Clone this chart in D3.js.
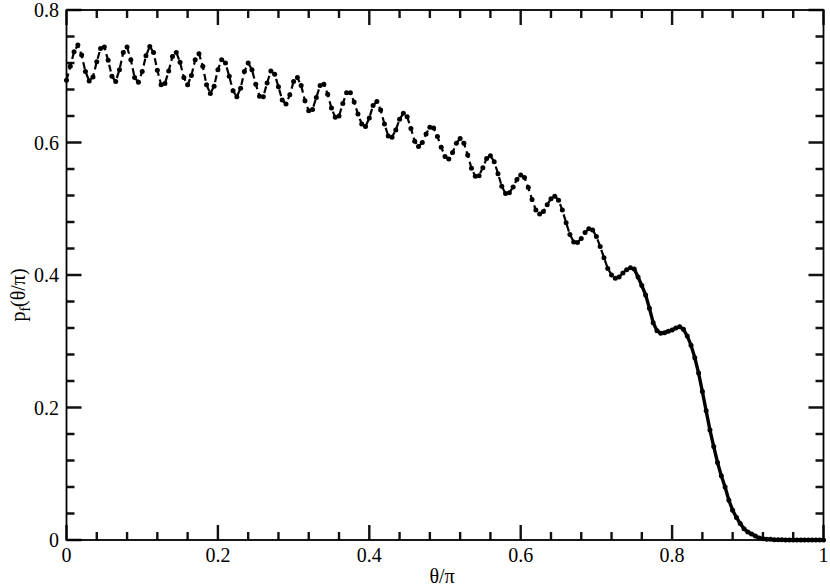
<!DOCTYPE html>
<html>
<head>
<meta charset="utf-8">
<script src="https://cdn.jsdelivr.net/npm/d3@7"></script>
<style>
  html, body { margin: 0; padding: 0; background: #fff; }
  svg { display: block; }
</style>
</head>
<body>
<svg id="chart" width="830" height="587" xmlns="http://www.w3.org/2000/svg"></svg>
<script>
// ---- data ----
const thetaStep = 0.005;           // sampling of θ/π
const splitTheta = 0.75;           // dashed part up to here, solid afterwards
const pf = [
  0.694, 0.715, 0.737, 0.747, 0.732, 0.707, 0.693, 0.699, 0.722, 0.742,
  0.744, 0.724, 0.700, 0.692, 0.710, 0.736, 0.744, 0.725, 0.698, 0.691,
  0.707, 0.731, 0.745, 0.736, 0.709, 0.687, 0.689, 0.708, 0.730, 0.736,
  0.721, 0.698, 0.687, 0.701, 0.725, 0.734, 0.715, 0.687, 0.674, 0.685,
  0.710, 0.725, 0.720, 0.700, 0.678, 0.669, 0.682, 0.707, 0.720, 0.710,
  0.688, 0.670, 0.669, 0.690, 0.708, 0.703, 0.684, 0.664, 0.658, 0.672,
  0.692, 0.698, 0.686, 0.663, 0.648, 0.650, 0.668, 0.686, 0.688, 0.673,
  0.652, 0.638, 0.640, 0.659, 0.675, 0.675, 0.661, 0.643, 0.628, 0.624,
  0.637, 0.656, 0.662, 0.649, 0.628, 0.610, 0.608, 0.619, 0.635, 0.644,
  0.639, 0.621, 0.602, 0.594, 0.600, 0.613, 0.623, 0.622, 0.609, 0.593,
  0.579, 0.575, 0.585, 0.599, 0.606, 0.599, 0.581, 0.561, 0.549, 0.550,
  0.562, 0.576, 0.580, 0.571, 0.553, 0.534, 0.523, 0.524, 0.533, 0.544,
  0.551, 0.547, 0.532, 0.514, 0.498, 0.492, 0.496, 0.506, 0.515, 0.519,
  0.513, 0.498, 0.479, 0.461, 0.450, 0.449, 0.455, 0.464, 0.470, 0.468,
  0.458, 0.443, 0.426, 0.410, 0.400, 0.395, 0.397, 0.403, 0.408, 0.411,
  0.409, 0.397, 0.384, 0.370, 0.350, 0.328, 0.316, 0.312, 0.313, 0.315,
  0.317, 0.320, 0.322, 0.318, 0.308, 0.294, 0.275, 0.252, 0.224, 0.195,
  0.166, 0.141, 0.117, 0.097, 0.080, 0.060, 0.045, 0.034, 0.025, 0.017,
  0.012, 0.009, 0.006, 0.003, 0.002, 0.001, 0.001, 0.0005, 0.0003, 0.0002,
  0.0001, 0, 0, 0, 0, 0, 0, 0, 0, 0,
  0
];
const xMajorTicks = [0, 0.2, 0.4, 0.6, 0.8, 1];
const xTickLabels = ["0", "0.2", "0.4", "0.6", "0.8", "1"];
const yMajorTicks = [0, 0.2, 0.4, 0.6, 0.8];
const yTickLabels = ["0", "0.2", "0.4", "0.6", "0.8"];
const xMinorTicks = [0.04, 0.08, 0.12, 0.16, 0.24, 0.28, 0.32, 0.36, 0.44, 0.48, 0.52, 0.56,
                     0.64, 0.68, 0.72, 0.76, 0.84, 0.88, 0.92, 0.96];
const yMinorTicks = [0.04, 0.08, 0.12, 0.16, 0.24, 0.28, 0.32, 0.36, 0.44, 0.48, 0.52, 0.56,
                     0.64, 0.68, 0.72, 0.76];

// ---- layout ----
const FONT = "Liberation Serif";
const M = { left: 66.5, right: 823.5, top: 10, bottom: 540 };
const svg = d3.select("#chart");
const x = d3.scaleLinear().domain([0, 1]).range([M.left, M.right]);
const y = d3.scaleLinear().domain([0, 0.8]).range([M.bottom, M.top]);

const points = pf.map((v, i) => ({ t: i * thetaStep, v }));
const dashedPts = points.filter(d => d.t <= splitTheta + 1e-9);
const solidPts = points.filter(d => d.t >= splitTheta - 1e-9);
const line = d3.line().x(d => x(d.t)).y(d => y(d.v));

// ---- ticks (inward on all four sides) ----
const majLen = 15, minLen = 8;
let dStr = "";
xMajorTicks.forEach(v => { const p = x(v); dStr += `M${p},${M.bottom}V${M.bottom - majLen}M${p},${M.top}V${M.top + majLen}`; });
xMinorTicks.forEach(v => { const p = x(v); dStr += `M${p},${M.bottom}V${M.bottom - minLen}M${p},${M.top}V${M.top + minLen}`; });
yMajorTicks.forEach(v => { const p = y(v); dStr += `M${M.left},${p}H${M.left + majLen}M${M.right},${p}H${M.right - majLen}`; });
yMinorTicks.forEach(v => { const p = y(v); dStr += `M${M.left},${p}H${M.left + minLen}M${M.right},${p}H${M.right - minLen}`; });
svg.append("path").attr("d", dStr).attr("fill", "none").attr("stroke", "#111").attr("stroke-width", 2.4);

// frame
svg.append("rect").attr("x", M.left).attr("y", M.top)
  .attr("width", M.right - M.left).attr("height", M.bottom - M.top)
  .attr("fill", "none").attr("stroke", "#000").attr("stroke-width", 1.8);

// ---- data ----
svg.append("path").datum(dashedPts)
  .attr("d", line).attr("fill", "none").attr("stroke", "#000")
  .attr("stroke-width", 2.2).attr("stroke-dasharray", "7,4");
svg.append("path").datum(solidPts)
  .attr("d", line).attr("fill", "none").attr("stroke", "#000")
  .attr("stroke-width", 3.4);
svg.append("g").selectAll("circle").data(points).join("circle")
  .attr("cx", d => x(d.t)).attr("cy", d => y(d.v)).attr("r", 2.5)
  .attr("fill", "#000");

// ---- tick labels ----
svg.append("g").selectAll("text").data(xMajorTicks).join("text")
  .attr("x", d => x(d)).attr("y", 562)
  .attr("text-anchor", "middle").attr("font-family", FONT).attr("font-size", 20)
  .text((d, i) => xTickLabels[i]);
svg.append("g").selectAll("text").data(yMajorTicks).join("text")
  .attr("x", 59).attr("y", d => y(d) + 7)
  .attr("text-anchor", "end").attr("font-family", FONT).attr("font-size", 20)
  .text((d, i) => yTickLabels[i]);

// ---- axis titles ----
svg.append("text").attr("x", (M.left + M.right) / 2 - 3).attr("y", 583)
  .attr("text-anchor", "middle").attr("font-family", FONT).attr("font-size", 20).text("θ/π");

const yl = svg.append("text")
  .attr("transform", `translate(25,${(M.top + M.bottom) / 2 + 20}) rotate(-90)`)
  .attr("text-anchor", "middle").attr("font-family", FONT).attr("font-size", 20);
yl.append("tspan").text("p");
yl.append("tspan").attr("dy", 5).attr("font-size", 14).text("f");
yl.append("tspan").attr("dy", -5).text("(θ/π)");
</script>
</body>
</html>
